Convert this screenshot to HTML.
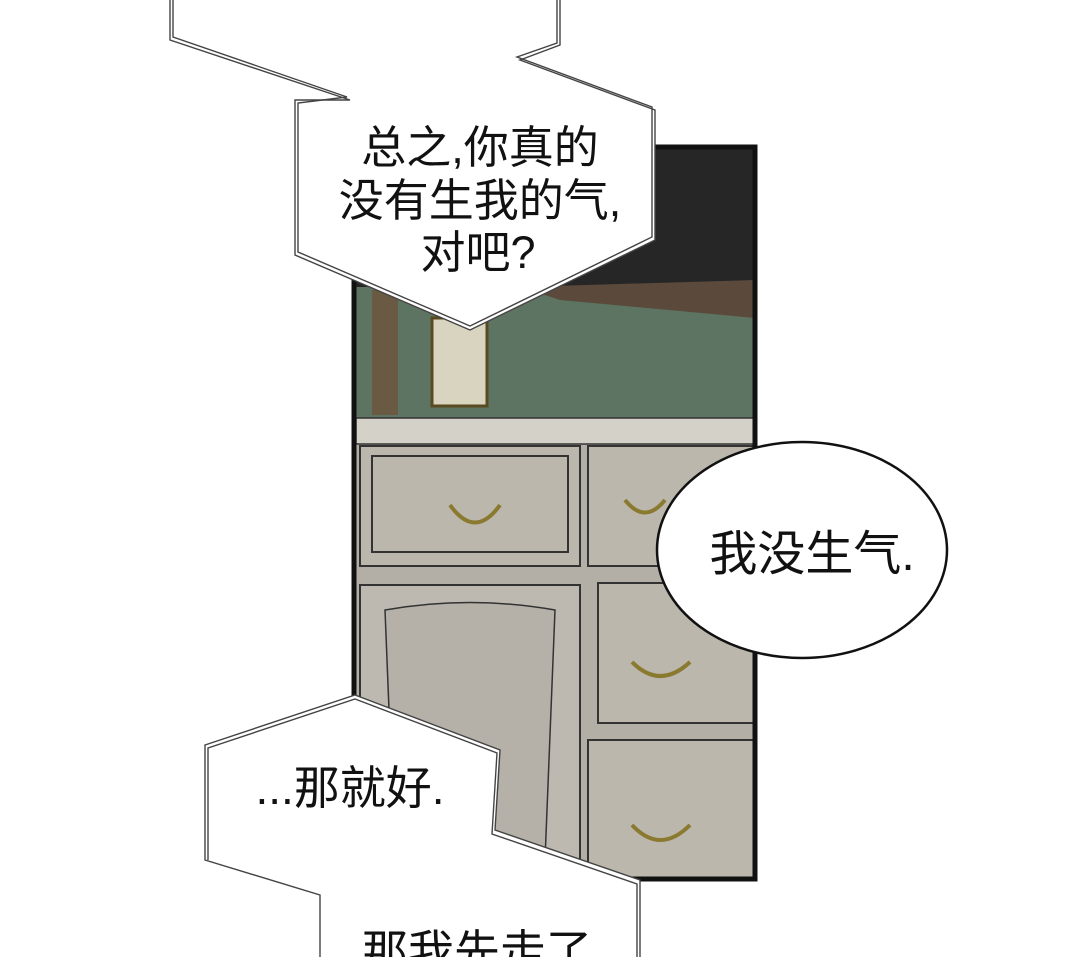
<!DOCTYPE html>
<html><head><meta charset="utf-8"><style>
html,body{margin:0;padding:0;background:#fff;}
body{width:1080px;height:957px;overflow:hidden;position:relative;}
svg{position:absolute;left:0;top:0;}
text{font-family:"Liberation Sans","Noto Sans CJK SC",sans-serif;fill:#111;}
</style></head><body>
<svg width="1080" height="957" viewBox="0 0 1080 957">
<rect x="354" y="147" width="401" height="732" fill="#b3afa6"/>
<rect x="354" y="147" width="401" height="140" fill="#262626"/>
<polygon points="354,287 755,287 755,420 354,420" fill="#5d7463"/>
<polygon points="520,287 755,280 755,318 560,300" fill="#5b4a3c"/>
<rect x="372" y="290" width="26" height="125" fill="#6a5a44"/>
<rect x="356" y="418" width="398" height="26" fill="#d4d1c8" stroke="#333" stroke-width="1.5"/>
<rect x="360" y="446" width="220" height="120" fill="#bbb7ad" stroke="#333" stroke-width="2"/>
<rect x="372" y="456" width="196" height="96" fill="none" stroke="#333" stroke-width="2"/>
<rect x="588" y="446" width="166" height="120" fill="#bbb7ad" stroke="#333" stroke-width="2"/>
<rect x="598" y="583" width="156" height="140" fill="#bbb7ad" stroke="#333" stroke-width="2"/>
<rect x="588" y="740" width="166" height="138" fill="#bbb7ad" stroke="#333" stroke-width="2"/>
<path d="M360,585 L580,585 L580,878 L360,878Z" fill="#bdb9b0" stroke="#333" stroke-width="2"/>
<path d="M385,610 Q470,595 555,610 L545,860 L395,860Z" fill="#b5b1a8" stroke="#333" stroke-width="1.5"/>
<g fill="none" stroke="#8a7a30" stroke-width="4">
<path d="M450,505 Q475,540 500,505"/><path d="M625,500 Q645,525 665,500"/>
<path d="M632,662 Q660,690 690,662"/><path d="M632,825 Q660,855 690,825"/>
</g>
<rect x="432" y="318" width="55" height="88" fill="#d8d4c0" stroke="#5a4a20" stroke-width="3"/>
<rect x="354" y="147" width="401" height="732" fill="none" stroke="#111" stroke-width="5"/>
<g fill="#fff" stroke="#444" stroke-width="1.4">
<polygon points="170,-10 560,-10 560,45 520,60 655,110 655,240 470,330 295,255 295,100 350,100 170,40"/>
<polyline points="173,-10 173,37 347,97 298,103 298,252 470,326 652,237 652,107 517,57 557,43 557,-10" fill="none"/>
<polygon points="205,745 355,695 500,750 495,830 640,880 640,970 320,970 320,895 205,860"/>
<polyline points="208,860 208,748 355,699 497,753 492,834 637,884 637,970" fill="none"/>
<ellipse cx="802" cy="550" rx="145" ry="108" stroke="#111" stroke-width="2.5"/>
</g>
<g font-size="45" text-anchor="middle">
<text x="480" y="163">总之,你真的</text>
<text x="480" y="216">没有生我的气,</text>
<text x="478" y="268">对吧?</text>
<text x="812" y="570" font-size="48">我没生气.</text>
<text x="350" y="804" font-size="46">...那就好.</text>
<text x="477" y="968" font-size="46">那我先走了</text>
</g>
</svg>
</body></html>
